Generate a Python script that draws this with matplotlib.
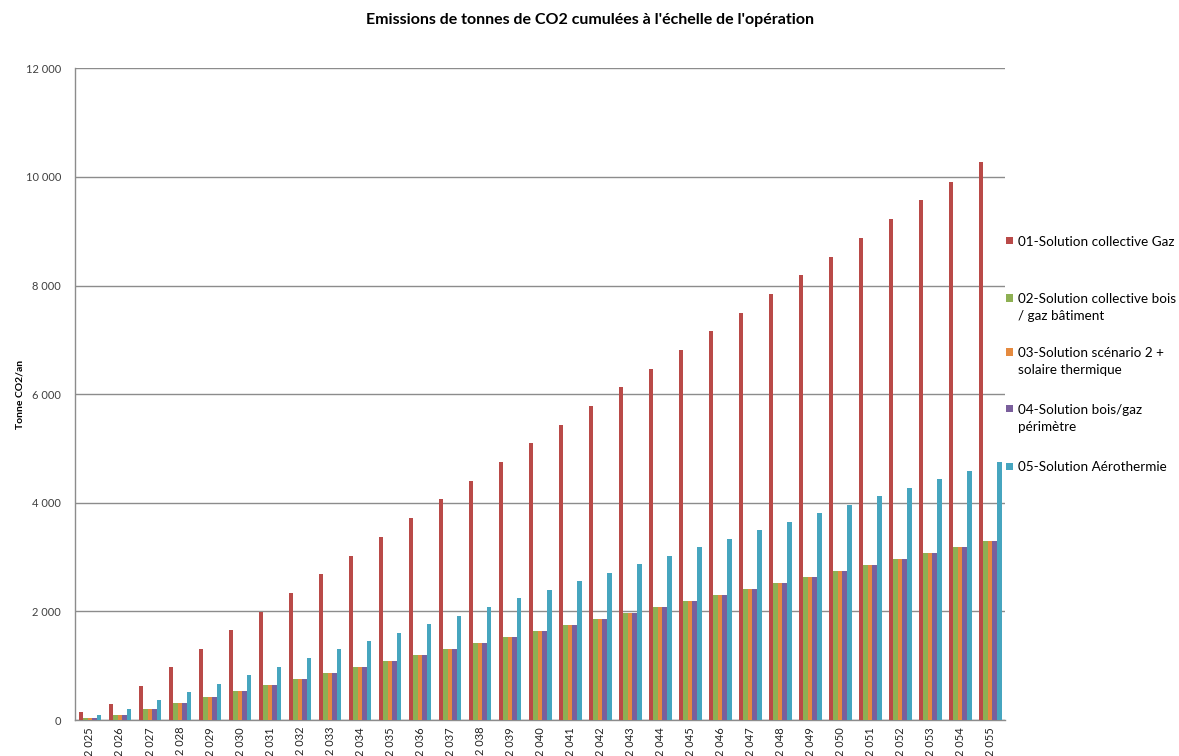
import matplotlib
matplotlib.use("Agg")
import matplotlib.pyplot as plt
import numpy as np
from matplotlib.patches import Rectangle

plt.rcParams['font.family'] = ['Lato', 'DejaVu Sans']

years = ["2 025", "2 026", "2 027", "2 028", "2 029", "2 030", "2 031", "2 032",
         "2 033", "2 034", "2 035", "2 036", "2 037", "2 038", "2 039", "2 040",
         "2 041", "2 042", "2 043", "2 044", "2 045", "2 046", "2 047", "2 048",
         "2 049", "2 050", "2 051", "2 052", "2 053", "2 054", "2 055"]

gaz = [147, 290, 630, 975, 1310, 1656, 1995, 2340, 2687, 3025, 3370, 3718, 4067,
       4400, 4748, 5097, 5430, 5778, 6127, 6460, 6808, 7158, 7490, 7838, 8188,
       8520, 8869, 9218, 9568, 9900, 10267]
bois_bat = [45, 95, 205, 315, 425, 535, 645, 755, 865, 975, 1085, 1195, 1305,
            1415, 1525, 1640, 1750, 1860, 1970, 2080, 2190, 2300, 2410, 2520,
            2640, 2750, 2860, 2970, 3080, 3190, 3300]
solaire = [35, 95, 205, 315, 425, 535, 645, 755, 865, 975, 1085, 1195, 1305,
           1415, 1525, 1640, 1750, 1860, 1970, 2080, 2190, 2300, 2410, 2520,
           2640, 2750, 2860, 2970, 3080, 3190, 3300]
bois_per = [45, 95, 205, 315, 425, 535, 645, 755, 865, 975, 1085, 1195, 1305,
            1415, 1525, 1640, 1750, 1860, 1970, 2080, 2190, 2300, 2410, 2520,
            2640, 2750, 2860, 2970, 3080, 3190, 3300]
aero = [95, 200, 360, 515, 670, 825, 980, 1140, 1300, 1455, 1610, 1765, 1920,
        2080, 2240, 2400, 2555, 2710, 2865, 3020, 3180, 3335, 3490, 3650, 3805,
        3960, 4120, 4275, 4430, 4590, 4750]

labels = ["01-Solution collective Gaz",
          "02-Solution collective bois\n/ gaz bâtiment",
          "03-Solution scénario 2 +\nsolaire thermique",
          "04-Solution bois/gaz\npérimètre",
          "05-Solution Aérothermie"]
colors = ["#B94A48", "#8EB053", "#E58A3F", "#7A5F9C", "#46A5BF"]
series = [gaz, bois_bat, solaire, bois_per, aero]

W, H = 1179, 756
fig = plt.figure(figsize=(W / 100, H / 100), dpi=100)
ax = fig.add_axes([0.0636, 0.0476, 0.789, 0.862])

x = np.arange(len(years))
w = 0.152
for i, (s, c) in enumerate(zip(series, colors)):
    ax.bar(x + (i - 2) * w, s, width=w, color=c, edgecolor='none', zorder=3)

ax.set_xlim(-0.5, len(years) - 0.5)
ax.set_ylim(0, 12000)
ax.set_yticks(range(0, 12001, 2000))
ax.set_yticklabels(["0", "2 000", "4 000", "6 000", "8 000", "10 000", "12 000"],
                   fontsize=8, color="#404040")
ax.set_xticks(x)
ax.set_xticklabels(years, rotation=90, fontsize=8, color="#202020")
ax.tick_params(axis='both', length=0, pad=10)
ax.tick_params(axis='x', pad=5)
ax.grid(axis='y', color="#8c8c8c", linewidth=1, zorder=0)
for sp in ['top', 'right']:
    ax.spines[sp].set_visible(False)
for sp in ['left', 'bottom']:
    ax.spines[sp].set_color("#8c8c8c")
    ax.spines[sp].set_linewidth(1)

ax.set_ylabel("Tonne CO2/an", fontsize=7.5, fontweight='bold', labelpad=1)
fig.text(0.5, 1 - 20 / H, "Emissions de tonnes de CO2 cumulées à l'échelle de l'opération",
         ha='center', va='center', fontsize=11.5, fontweight='bold')

# legend (entry centre y of first line, in pixels from top)
leg_y = [241, 298, 352, 409, 466]
for lab, c, yy in zip(labels, colors, leg_y):
    fig.patches.append(Rectangle((1006 / W, 1 - (yy + 3.5) / H), 7 / W, 7 / H,
                                 transform=fig.transFigure, facecolor=c,
                                 edgecolor='none'))
    fig.text(1018 / W, 1 - (yy - 5) / H, lab, ha='left', va='top',
             fontsize=9.7, linespacing=1.5)

fig.savefig("out.png", dpi=100)
